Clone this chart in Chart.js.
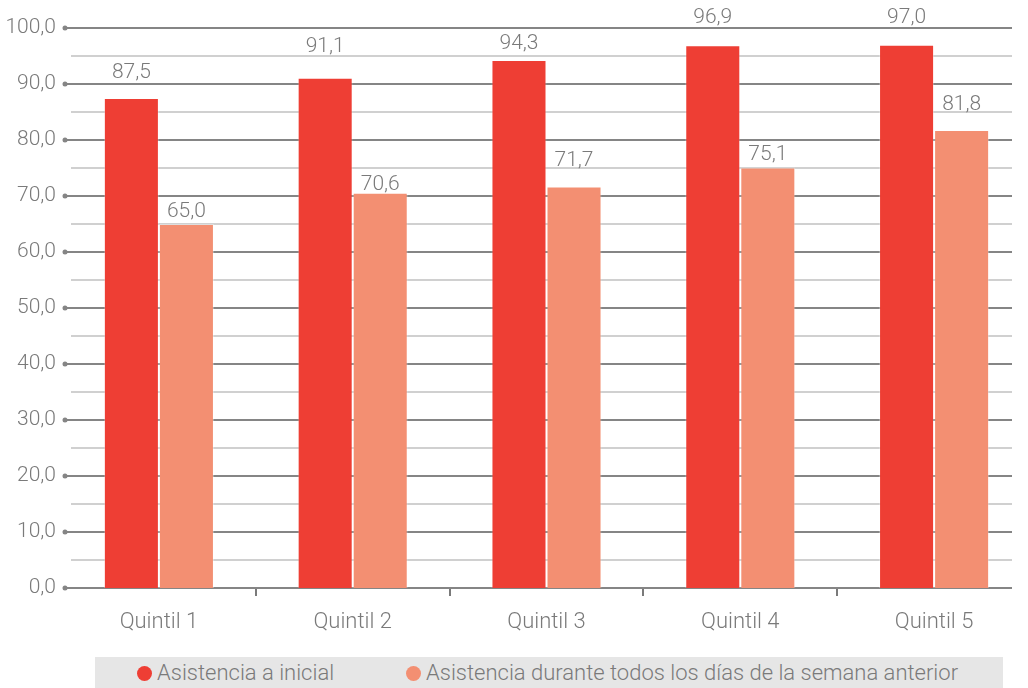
<!DOCTYPE html>
<html>
<head>
<meta charset="utf-8">
<script src="https://cdn.jsdelivr.net/npm/chart.js@4/dist/chart.umd.min.js"></script>
<style>
  html, body { margin: 0; padding: 0; background: #fff; overflow: hidden; }
  #wrap { position: relative; width: 1034px; height: 688px; }
  #legend {
    position: absolute; left: 95px; top: 657px; width: 908px; height: 31px;
    background: #e6e6e6; font-family: Roboto, sans-serif; font-weight: 300;
    font-size: 22px; color: #7a7a7a;
  }
  .item { position: absolute; top: 0; height: 31px; line-height: 31px; white-space: nowrap; }
  .dot { display: inline-block; width: 15px; height: 15px; border-radius: 50%; vertical-align: -1px; margin-right: 5px; }
</style>
</head>
<body>
<div id="wrap">
  <canvas id="myChart" width="1034" height="688"></canvas>
  <div id="legend"></div>
</div>
<script>
let categories = ['Quintil 1', 'Quintil 2', 'Quintil 3', 'Quintil 4', 'Quintil 5'];
let seriesNames = ['Asistencia a inicial', 'Asistencia durante todos los días de la semana anterior'];
let inicial = [87.5, 91.1, 94.3, 96.9, 97.0];
let semana = [65.0, 70.6, 71.7, 75.1, 81.8];
let yTicks = [0, 10, 20, 30, 40, 50, 60, 70, 80, 90, 100];

// label offsets above bar top (px), as placed in the source
let liftInicial = [20, 26, 11, 22, 22];
let liftSemana = [7, 3, 20, 7, 20];

let colors = ['#ee3e34', '#f38f72'];
let fontFamily = 'Roboto, sans-serif';

let fmt = (v) => v.toFixed(1).replace('.', ',');

// legend (html)
let legendLeft = [42, 311];
seriesNames.forEach((name, i) => {
    let el = document.createElement('div');
    el.className = 'item';
    el.style.left = legendLeft[i] + 'px';
    el.innerHTML = '<span class="dot" style="background:' + colors[i] + '"></span>' + name;
    document.getElementById('legend').appendChild(el);
});

let gridPlugin = {
    id: 'gridPlugin',
    beforeDatasetsDraw(chart) {
        let ctx = chart.ctx;
        let y = chart.scales.y;
        ctx.save();
        for (let v = 0; v <= 100; v += 5) {
            let py = Math.round(y.getPixelForValue(v));
            let major = v % 10 === 0;
            ctx.beginPath();
            ctx.strokeStyle = major ? '#858585' : '#c0c0c0';
            ctx.lineWidth = major ? 2 : 1.6;
            ctx.moveTo(major ? 65 : 71, py);
            ctx.lineTo(1012, py);
            ctx.stroke();
            if (major) {
                ctx.beginPath();
                ctx.fillStyle = '#858585';
                ctx.arc(65, py, 2.5, 0, Math.PI * 2);
                ctx.fill();
            }
        }
        ctx.restore();
    }
};

let labelPlugin = {
    id: 'labelPlugin',
    afterDatasetsDraw(chart) {
        let ctx = chart.ctx;
        let lifts = [liftInicial, liftSemana];
        ctx.save();
        ctx.font = '300 21px ' + fontFamily;
        ctx.fillStyle = '#7a7a7a';
        ctx.textAlign = 'center';
        ctx.textBaseline = 'alphabetic';
        chart.data.datasets.forEach((ds, di) => {
            chart.getDatasetMeta(di).data.forEach((bar, i) => {
                ctx.fillText(fmt(ds.data[i]), bar.x, bar.y - lifts[di][i]);
            });
        });
        ctx.restore();
    }
};

var ctx = document.getElementById('myChart').getContext('2d');

let myChart = new Chart(ctx, {
    type: 'bar',
    data: {
        labels: categories,
        datasets: [{
            label: seriesNames[0],
            data: inicial,
            backgroundColor: colors[0],
            borderColor: 'rgba(255,255,255,0.3)',
            borderWidth: 1,
            categoryPercentage: 0.568,
            barPercentage: 1
        }, {
            label: seriesNames[1],
            data: semana,
            backgroundColor: colors[1],
            borderColor: 'rgba(255,255,255,0.3)',
            borderWidth: 1,
            categoryPercentage: 0.568,
            barPercentage: 1
        }]
    },
    options: {
        responsive: false,
        animation: false,
        layout: { padding: { top: 28, right: 3, left: 0, bottom: 0 } },
        plugins: {
            legend: { display: false },
            tooltip: { enabled: false }
        },
        scales: {
            x: {
                afterFit: (scale) => { scale.height = 100; },
                border: { display: false },
                grid: {
                    offset: true,
                    drawOnChartArea: false,
                    tickLength: 8,
                    lineWidth: 2,
                    color: (c) => (c.index === 0 ? 'rgba(0,0,0,0)' : '#7a7a7a')
                },
                ticks: {
                    padding: 13,
                    color: '#7a7a7a',
                    font: { family: fontFamily, size: 22, weight: 300 }
                }
            },
            y: {
                min: 0,
                max: 100,
                afterFit: (scale) => { scale.width = 62; },
                afterBuildTicks: (scale) => { scale.ticks = yTicks.map(v => ({ value: v })); },
                border: { display: false },
                grid: { display: false, drawTicks: false },
                ticks: {
                    padding: 6,
                    color: '#7a7a7a',
                    font: { family: fontFamily, size: 21, weight: 300 },
                    callback: (v) => fmt(v)
                }
            }
        }
    },
    plugins: [gridPlugin, labelPlugin]
});
</script>
</body>
</html>
